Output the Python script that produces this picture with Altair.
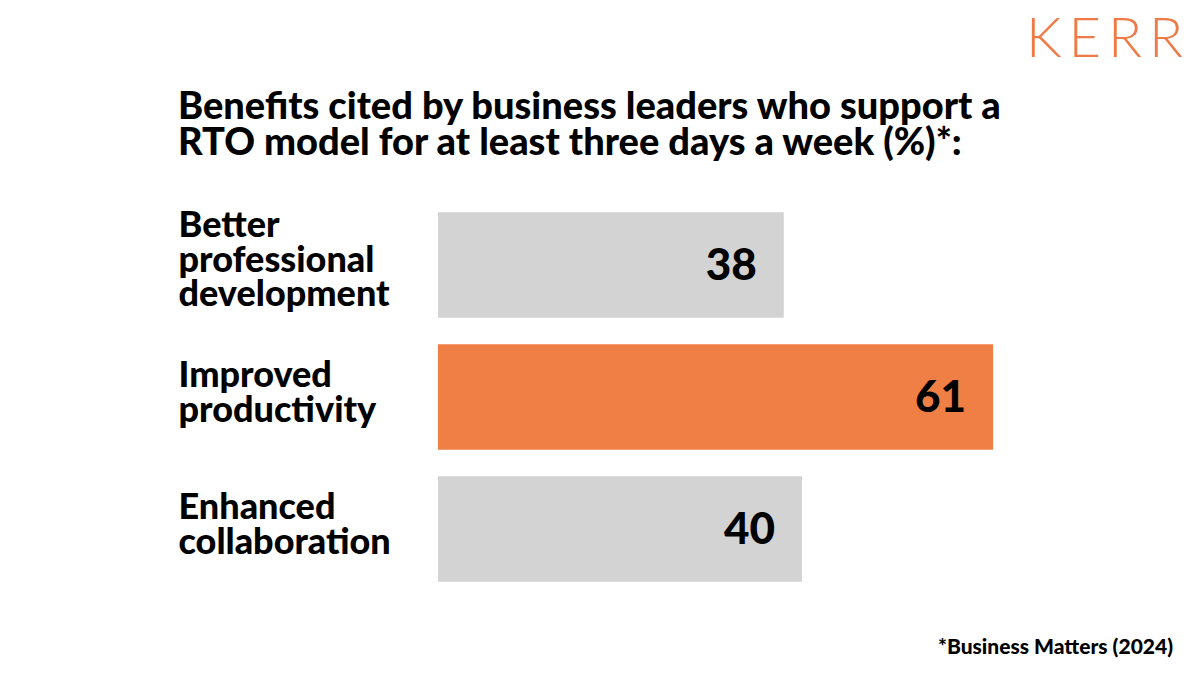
import altair as alt
import pandas as pd

categories = ["Better|professional|development", "Improved|productivity", "Enhanced|collaboration"]
values = [38, 61, 40]
highlight = ["no", "yes", "no"]

title_lines = ["Benefits cited by business leaders who support a",
               "RTO model for at least three days a week (%)*:"]
footnote = "*Business Matters (2024)"
logo = "K\u2009E\u2009R\u2009R"

df = pd.DataFrame({"cat": categories, "value": values, "hl": highlight})

FONT = "Lato"
ORANGE = "#F07F45"
GRAY = "#D3D3D3"

base = alt.Chart(df)

bars = base.mark_bar().encode(
    y=alt.Y("cat:N", sort=categories,
            scale=alt.Scale(paddingInner=0.2, paddingOuter=0.1),
            axis=alt.Axis(title=None, ticks=False, tickSize=0, domain=False,
                          labelAlign="left", labelPadding=260,
                          labelExpr="split(datum.label, '|')",
                          labelFont=FONT, labelFontWeight=900, labelFontSize=36,
                          labelLineHeight=34.5, labelColor="#000000",
                          labelBaseline="middle", labelLimit=400,
                          labelOffset={"condition": {"test": "indexof(datum.value, 'Better') >= 0",
                                                     "value": -39},
                                       "value": -21})),
    x=alt.X("value:Q", scale=alt.Scale(domain=[0, 70], nice=False),
            axis=None),
    color=alt.Color("hl:N", scale=alt.Scale(domain=["no", "yes"], range=[GRAY, ORANGE]),
                    legend=None),
)

labels = base.mark_text(align="right", baseline="middle", dx=-27, dy=2,
                        font=FONT, fontWeight=900, fontSize=44, color="#000000").encode(
    y=alt.Y("cat:N", sort=categories),
    x=alt.X("value:Q"),
    text=alt.Text("value:Q"),
)

title_df = pd.DataFrame({"t": title_lines, "i": [0, 1]})
title = alt.Chart(title_df).mark_text(align="left", baseline="alphabetic",
                                      font=FONT, fontWeight=900, fontSize=38,
                                      color="#000000").encode(
    x=alt.value(-260),
    y=alt.YValue(-80),
    text="t:N",
).transform_filter("datum.i == 0")

title2 = alt.Chart(title_df).mark_text(align="left", baseline="alphabetic",
                                       font=FONT, fontWeight=900, fontSize=38,
                                       color="#000000").encode(
    x=alt.value(-260),
    y=alt.YValue(-44),
    text="t:N",
).transform_filter("datum.i == 1")

foot = alt.Chart(pd.DataFrame({"t": [footnote]})).mark_text(
    align="right", baseline="alphabetic", font=FONT, fontWeight=900,
    fontSize=21, color="#000000").encode(
    x=alt.value(735), y=alt.YValue(455), text="t:N")

logo_mark = alt.Chart(pd.DataFrame({"t": [logo]})).mark_text(
    align="right", baseline="alphabetic", font=FONT, fontWeight=300,
    fontSize=56, color="#EE7B47").encode(
    x=alt.value(745), y=alt.YValue(-142), text="t:N")

chart = alt.layer(bars, labels, title, title2, foot, logo_mark).properties(
    width=637, height=396,
    autosize=alt.AutoSizeParams(type="none"),
    padding={"left": 430, "top": 191, "right": 117, "bottom": 72},
    background="#FFFFFF",
).configure_view(stroke=None)

chart.save("out.html", embed_options={"renderer": "svg", "actions": False})
